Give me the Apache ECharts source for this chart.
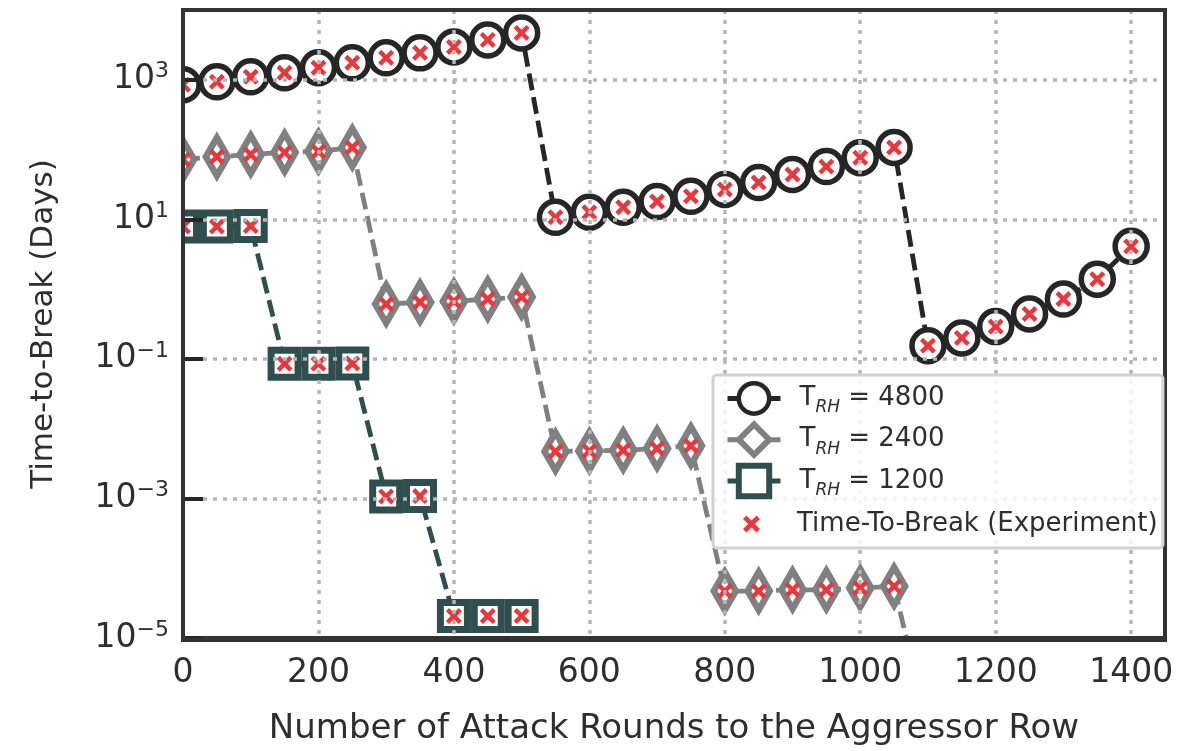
<!DOCTYPE html>
<html>
<head>
<meta charset="utf-8">
<script src="https://cdn.jsdelivr.net/npm/echarts@6/dist/echarts.min.js"></script>
<style>
html,body{margin:0;padding:0;background:#fff;}
#chart{width:1190px;height:751px;}
</style>
</head>
<body>
<div id="chart"></div>
<script>
// ---- data ----
const rounds4800 = [0,50,100,150,200,250,300,350,400,450,500,550,600,650,700,750,800,850,900,950,1000,1050,1100,1150,1200,1250,1300,1350,1400];
const ttb4800 = [849,936,1104,1259,1484,1750,2062,2430,2960,3728,4695,10.7,12.6,14.9,18.0,21.4,26.8,33.7,43.9,57.0,76.6,107,0.154,0.20,0.29,0.44,0.72,1.39,4.1];
const rounds2400 = [0,50,100,150,200,250,300,350,400,450,500,550,600,650,700,750,800,850,900,950,1000,1050,1100];
const ttb2400 = [72,79,85,91,94,107,0.61,0.65,0.67,0.72,0.77,0.0047,0.0048,0.0049,0.0052,0.0057,4.7e-5,4.7e-5,4.9e-5,4.9e-5,5.2e-5,5.5e-5,5e-7];
const rounds1200 = [0,50,100,150,200,250,300,350,400,450,500];
const ttb1200 = [7.9,7.9,8.0,0.085,0.085,0.086,0.00107,0.00108,2.06e-5,2.06e-5,2.07e-5];
const xTicks = [0,200,400,600,800,1000,1200,1400];
const yTickExps = [-5,-3,-1,1,3];
const seriesNames = ['T_RH = 4800','T_RH = 2400','T_RH = 1200'];
const expName = 'Time-To-Break (Experiment)';

const pairs = (xs, ys) => xs.map((x, i) => [x, ys[i]]);
const yMin = 1e-5;
const experiment = []
  .concat(pairs(rounds4800, ttb4800), pairs(rounds2400, ttb2400), pairs(rounds1200, ttb1200))
  .filter(p => p[1] >= yMin);

const XPATH = 'path://M2,0L5,3L8,0L10,2L7,5L10,8L8,10L5,7L2,10L0,8L3,5L0,2Z';
const TXT = '#2e2e2e';
const FONT = 'DejaVu Sans';
const RED = '#e8383d';

const chart = echarts.init(document.getElementById('chart'), null, {renderer: 'canvas'});

const styles = [
  {color: '#262626', symbol: 'circle', size: 32, bw: 5.5},
  {color: '#808080', symbol: 'diamond', size: [22, 38], bw: 7},
  {color: '#2f4f4f', symbol: 'rect', size: 27, bw: 7}
];

function lineSeries(idx, data) {
  const s = styles[idx];
  return {
    name: seriesNames[idx], type: 'line', data: data,
    symbol: s.symbol, symbolSize: s.size,
    lineStyle: {color: s.color, width: 4.8, type: [17, 7]},
    itemStyle: {color: '#ffffff', borderColor: s.color, borderWidth: s.bw},
    emphasis: {disabled: true},
    z: 2, animation: false
  };
}

const gridLine = {show: true, showMinLine: false, showMaxLine: false, lineStyle: {color: '#b5b5b5', width: 3.5, type: [4, 6]}};

const option = {
  animation: false,
  backgroundColor: '#ffffff',
  textStyle: {fontFamily: FONT},
  grid: {left: 183, right: 25, top: 10, bottom: 111, show: false},
  xAxis: {
    type: 'value', min: 0, max: 1450, interval: 200, z: 5,
    name: 'Number of Attack Rounds to the Aggressor Row',
    nameLocation: 'middle', nameGap: 74,
    nameTextStyle: {fontSize: 34, color: TXT, fontFamily: FONT},
    axisLine: {show: true, onZero: false, lineStyle: {color: '#333333', width: 4}},
    axisTick: {show: false},
    axisLabel: {
      fontSize: 33, color: TXT, fontFamily: FONT, margin: 19,
      showMaxLabel: false,
      formatter: v => (xTicks.indexOf(v) >= 0 ? String(v) : '')
    },
    splitLine: gridLine
  },
  yAxis: {
    type: 'log', logBase: 10, min: 1e-5, max: 1e4, interval: 2, z: 5,
    name: 'Time-to-Break (Days)',
    nameLocation: 'middle', nameGap: 124,
    nameTextStyle: {fontSize: 31, color: TXT, fontFamily: FONT},
    axisLine: {show: true, lineStyle: {color: '#333333', width: 4}},
    axisTick: {show: true, inside: true, length: 20, lineStyle: {color: '#262626', width: 4}},
    axisLabel: {
      margin: 14, showMaxLabel: false,
      formatter: function (v) {
        const e = Math.round(Math.log10(v));
        if (yTickExps.indexOf(e) < 0) return '';
        const s = String(e).replace('-', '\u2212');
        return '{b|10}{e|' + s + '}';
      },
      rich: {
        b: {fontSize: 33, color: TXT, fontFamily: FONT, verticalAlign: 'middle', lineHeight: 33},
        e: {fontSize: 22, color: TXT, fontFamily: FONT, verticalAlign: 'top', lineHeight: 38}
      }
    },
    splitLine: gridLine
  },
  legend: [
    {
      data: seriesNames.map((n, i) => ({name: n, itemStyle: {borderWidth: styles[i].bw - 1, color: '#ffffff', borderColor: styles[i].color}})),
      orient: 'vertical', left: 713, top: 375,
      padding: [6, 10, 4, 12], itemWidth: 53, itemHeight: 38, itemGap: 5,
      selectedMode: false, z: 8,
      lineStyle: {type: 'solid', width: 5},
      formatter: function (name) {
        const num = name.split('= ')[1];
        return '{t|T}{s|RH}{t| = ' + num + '}';
      },
      textStyle: {
        color: TXT, fontFamily: FONT, fontSize: 26, padding: [0, 0, 0, 14],
        rich: {
          t: {fontSize: 26, color: TXT, fontFamily: FONT, verticalAlign: 'middle', lineHeight: 30},
          s: {fontSize: 17, color: TXT, fontFamily: FONT, fontStyle: 'italic', verticalAlign: 'bottom', lineHeight: 36}
        }
      }
    },
    {
      data: [{name: expName, icon: XPATH, itemStyle: {color: RED, opacity: 1}}],
      orient: 'vertical', left: 743, top: 511,
      padding: [0, 10, 0, 0], itemWidth: 17, itemHeight: 17,
      selectedMode: false, z: 8,
      formatter: name => '{t|' + name + '}',
      textStyle: {
        color: TXT, fontFamily: FONT, fontSize: 26, padding: [0, 0, 0, 32],
        rich: {t: {fontSize: 26, color: TXT, fontFamily: FONT, verticalAlign: 'middle', lineHeight: 30}}
      }
    }
  ],
  graphic: [
    {type: 'rect', z: 3, silent: true, shape: {x: 100, y: 0, width: 81, height: 700}, style: {fill: '#ffffff'}},
    {type: 'rect', z: 6, silent: true, shape: {x: 183, y: 10, width: 982, height: 630},
     style: {fill: 'none', stroke: '#333333', lineWidth: 4}},
    {type: 'rect', z: 7, silent: true, shape: {x: 713, y: 375, width: 450, height: 173, r: 4},
     style: {fill: 'rgba(255,255,255,0.85)', stroke: '#d2d2d2', lineWidth: 3}}
  ],
  series: [
    lineSeries(0, pairs(rounds4800, ttb4800)),
    lineSeries(1, pairs(rounds2400, ttb2400)),
    lineSeries(2, pairs(rounds1200, ttb1200)),
    {
      name: expName, type: 'scatter', data: experiment,
      symbol: XPATH, symbolSize: 16,
      itemStyle: {color: RED, opacity: 1},
      emphasis: {disabled: true}, z: 2, animation: false
    }
  ]
};
chart.setOption(option);
</script>
</body>
</html>
